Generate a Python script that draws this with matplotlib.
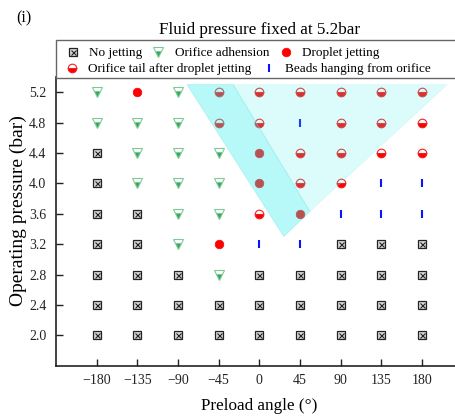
import matplotlib.pyplot as plt
from matplotlib.lines import Line2D
from matplotlib.patches import Polygon, Rectangle
from matplotlib.legend_handler import HandlerTuple

plt.rcParams["font.family"] = ["Liberation Serif", "DejaVu Serif"]

ANGLES = [-180, -135, -90, -45, 0, 45, 90, 135, 180]
PRESSURES = [5.2, 4.8, 4.4, 4.0, 3.6, 3.2, 2.8, 2.4, 2.0]
# N = no jetting, A = orifice adhension, D = droplet jetting,
# T = orifice tail after droplet jetting, B = beads hanging from orifice
STATES = [
    "ADATTTTTT",  # 5.2 bar
    "AAATTBTTT",  # 4.8
    "NAAADTTTT",  # 4.4
    "NAAADTTBB",  # 4.0
    "NNAATDBBB",  # 3.6
    "NNADBBNNN",  # 3.2
    "NNNANNNNN",  # 2.8
    "NNNNNNNNN",  # 2.4
    "NNNNNNNNN",  # 2.0
]
LABELS = {
    "N": "No jetting",
    "A": "Orifice adhension",
    "D": "Droplet jetting",
    "T": "Orifice tail after droplet jetting",
    "B": "Beads hanging from orifice",
}

# shaded regions (angle, pressure)
DARK_BAND = [(-80, 5.3), (-29, 5.3), (56, 3.63), (27, 3.3)]
LIGHT_TRI = [(-29, 5.3), (208, 5.3), (56, 3.63)]

BOX = dict(marker="s", ms=5.2, mfc="#d8d8d8", mec="#222222", mew=0.9, ls="none")
CROSS = dict(marker="x", ms=3.6, mec="#222222", mew=0.8, ls="none")
STYLES = {
    "A": dict(marker="v", ms=6.8, fillstyle="bottom", mfc="#35a55c", mfcalt="white",
              mec="#7ccb96", mew=0.8, ls="none"),
    "D": dict(marker="o", ms=6.2, mfc="#ff0000", mec="#ff0000", mew=0.5, ls="none"),
    "T": dict(marker="o", ms=6.2, fillstyle="bottom", mfc="#ff0000", mfcalt="white",
              mec="#f02020", mew=0.8, ls="none"),
    "B": dict(marker="|", ms=5.5, mec="#0a14ff", mew=1.5, ls="none"),
}

fig = plt.figure(figsize=(4.55, 4.16), dpi=100)
ax = fig.add_axes([56 / 455, 1 - 365.7 / 416, (462.7 - 56) / 455, (365.7 - 77) / 416])

for code in "NADTB":
    xs, ys = [], []
    for p, row in zip(PRESSURES, STATES):
        for a, s in zip(ANGLES, row):
            if s == code:
                xs.append(a)
                ys.append(p)
    if code == "N":
        ax.plot(xs, ys, zorder=2, **BOX)
        ax.plot(xs, ys, zorder=2.1, **CROSS)
    else:
        ax.plot(xs, ys, zorder=2, **STYLES[code])

ax.add_patch(Polygon(DARK_BAND, closed=True, fc="#33f0f0", alpha=0.35,
                     ec="#66dddd", lw=0.6, zorder=3))
ax.add_patch(Polygon(LIGHT_TRI, closed=True, fc="#50f0f0", alpha=0.2,
                     ec="#99e8e8", lw=0.6, zorder=3))

ax.set_xlim(-225, 225)
ax.set_ylim(1.6, 5.4)
ax.set_xticks(ANGLES)
ax.set_yticks(PRESSURES)
ax.set_yticklabels([f"{p:.1f}" for p in PRESSURES])
ax.tick_params(direction="in", length=5, width=1, labelsize=10, colors="#222222")
ax.tick_params(axis="x", pad=6)
ax.tick_params(axis="y", pad=7)
for side in ("top", "right"):
    ax.spines[side].set_visible(False)
for side in ("left", "bottom"):
    ax.spines[side].set_linewidth(1.2)
    ax.spines[side].set_color("#222222")

ax.set_xlabel("Preload angle (°)", fontsize=12.3, labelpad=8)
ax.set_ylabel("Operating pressure (bar)", fontsize=14)
ax.yaxis.set_label_coords(-0.072, 0.536)

# legend frame across the top of the plot
fig.patches.append(Rectangle((55.5 / 455, 1 - 77.5 / 416), 1.0, (77.5 - 39.5) / 416,
                             transform=fig.transFigure, fill=False,
                             ec="#666666", lw=1.0))

handles = {
    "N": (Line2D([], [], **BOX), Line2D([], [], **CROSS)),
    "A": Line2D([], [], **STYLES["A"]),
    "D": Line2D([], [], **STYLES["D"]),
    "T": Line2D([], [], **STYLES["T"]),
    "B": Line2D([], [], **STYLES["B"]),
}
hmap = {tuple: HandlerTuple(ndivide=1, pad=0)}
common = dict(loc="upper left", bbox_transform=fig.transFigure, frameon=False,
              fontsize=9.5, borderpad=0, borderaxespad=0, handlelength=1.0,
              handletextpad=0.75, handler_map=hmap)
fig.legend([handles[c] for c in "NAD"], [LABELS[c] for c in "NAD"], ncol=3,
           bbox_to_anchor=(66 / 455, 1 - 47 / 416), columnspacing=0.72, **common)
fig.legend([handles[c] for c in "TB"], [LABELS[c] for c in "TB"], ncol=2,
           bbox_to_anchor=(65 / 455, 1 - 63 / 416), columnspacing=0.83, **common)

fig.text(260 / 455, 1 - 30 / 416, "Fluid pressure fixed at 5.2bar", ha="center",
         va="center", fontsize=12.3)
fig.text(16 / 455, 1 - 18 / 416, "(i)", ha="left", va="center", fontsize=11.5)

fig.savefig("out.png", dpi=100)
